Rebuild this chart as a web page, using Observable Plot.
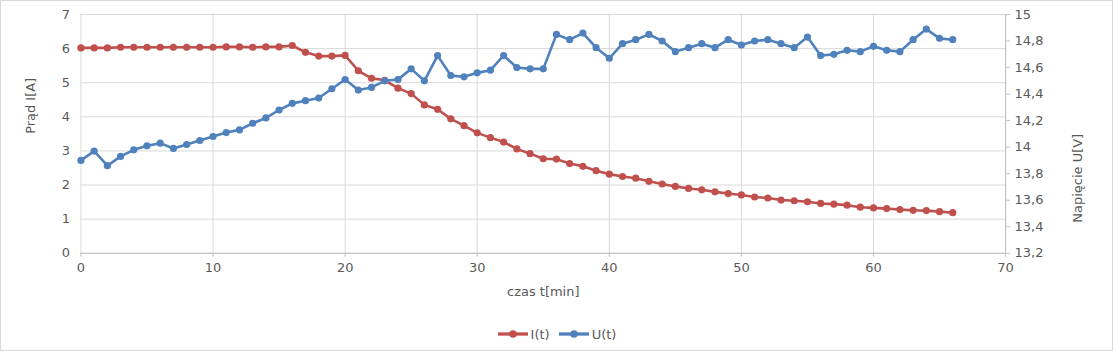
<!DOCTYPE html>
<html><head><meta charset="utf-8">
<script src="https://cdn.jsdelivr.net/npm/d3@7"></script>
<script src="https://cdn.jsdelivr.net/npm/@observablehq/plot@0.6"></script>
<style>
html,body{margin:0;padding:0;background:#fff;}
#wrap{position:relative;width:1113px;height:351px;box-sizing:border-box;border:1px solid #d9d9d9;font-family:"DejaVu Sans",sans-serif;color:#595959;overflow:hidden;}
#chart{position:absolute;left:-1px;top:-1px;}
#legend{position:absolute;left:-1px;top:318px;width:1113px;height:30px;display:flex;justify-content:center;align-items:center;font-size:13px;gap:8px;}
#legend span.item{display:flex;align-items:center;gap:2px;}
</style></head>
<body><div id="wrap"><div id="chart"></div><div id="legend"></div></div>
<script>
const time = [0,1,2,3,4,5,6,7,8,9,10,11,12,13,14,15,16,17,18,19,20,21,22,23,24,25,26,27,28,29,30,31,32,33,34,35,36,37,38,39,40,41,42,43,44,45,46,47,48,49,50,51,52,53,54,55,56,57,58,59,60,61,62,63,64,65,66];
const current = [6.02,6.02,6.02,6.04,6.04,6.04,6.04,6.04,6.04,6.04,6.04,6.05,6.05,6.04,6.05,6.05,6.09,5.89,5.78,5.78,5.80,5.35,5.13,5.07,4.84,4.68,4.35,4.22,3.94,3.74,3.53,3.39,3.26,3.06,2.92,2.77,2.76,2.63,2.55,2.42,2.32,2.25,2.20,2.11,2.03,1.96,1.90,1.86,1.80,1.75,1.71,1.65,1.62,1.56,1.54,1.51,1.46,1.44,1.41,1.35,1.33,1.31,1.28,1.26,1.25,1.22,1.19];
const voltage = [13.90,13.97,13.86,13.93,13.98,14.01,14.03,13.99,14.02,14.05,14.08,14.11,14.13,14.18,14.22,14.28,14.33,14.35,14.37,14.44,14.51,14.43,14.45,14.50,14.51,14.59,14.50,14.69,14.54,14.53,14.56,14.58,14.69,14.60,14.59,14.59,14.85,14.81,14.86,14.75,14.67,14.78,14.81,14.85,14.80,14.72,14.75,14.78,14.75,14.81,14.77,14.80,14.81,14.78,14.75,14.83,14.69,14.70,14.73,14.72,14.76,14.73,14.72,14.81,14.89,14.82,14.81];
const xTicks = [0,10,20,30,40,50,60,70];
const yTicks = [0,1,2,3,4,5,6,7];
const uTicks = [13.2,13.4,13.6,13.8,14,14.2,14.4,14.6,14.8,15];
const seriesNames = ["I(t)","U(t)"];
const colors = ["#c0504d","#4f81bd"];

const yMax = 7, uMin = 13.2, uMax = 15;
const toLeft = v => (v - uMin) / (uMax - uMin) * yMax;
const fromLeft = d => uMin + d / yMax * (uMax - uMin);
const fmtU = d => String(Math.round(fromLeft(d) * 10) / 10).replace(".", ",");

const dataI = time.map((t, i) => ({t, v: current[i]}));
const dataU = time.map((t, i) => ({t, v: toLeft(voltage[i])}));

const fontCSS = {fontFamily: "DejaVu Sans, sans-serif", fontSize: "13px", color: "#595959", background: "transparent", overflow: "visible"};

const plot = Plot.plot({
  width: 1113, height: 318,
  marginLeft: 80.5, marginRight: 107, marginTop: 14, marginBottom: 65,
  style: fontCSS,
  x: {domain: [0, 70]},
  y: {domain: [0, 7]},
  marks: [
    Plot.gridX(xTicks, {stroke: "#d9d9d9", strokeOpacity: 1}),
    Plot.gridY(yTicks, {stroke: "#d9d9d9", strokeOpacity: 1}),
    Plot.ruleY([0], {stroke: "#bfbfbf"}),
    Plot.ruleX([70], {stroke: "#bfbfbf", y1: 0, y2: 7}),
    Plot.axisX(xTicks, {tickSize: 4, tickPadding: 6, stroke: "#bfbfbf", label: null, fill: "#595959"}),
    Plot.axisY(yTicks, {anchor: "left", tickSize: 0, tickPadding: 11, label: null, fill: "#595959"}),
    Plot.axisY(uTicks.map(toLeft), {anchor: "right", tickSize: 4, tickPadding: 5, stroke: "#bfbfbf", tickFormat: fmtU, label: null, fill: "#595959"}),
    Plot.text(["czas t[min]"], {frameAnchor: "bottom", dy: 43, fill: "#595959"}),
    Plot.text(["Prąd I[A]"], {frameAnchor: "left", dx: -50, rotate: -90, fill: "#595959"}),
    Plot.text(["Napięcie U[V]"], {frameAnchor: "right", dx: 72, rotate: -90, fill: "#595959"}),
    Plot.line(dataI, {x: "t", y: "v", stroke: colors[0], strokeWidth: 2.6}),
    Plot.dot(dataI, {x: "t", y: "v", fill: colors[0], r: 3.6}),
    Plot.line(dataU, {x: "t", y: "v", stroke: colors[1], strokeWidth: 2.6}),
    Plot.dot(dataU, {x: "t", y: "v", fill: colors[1], r: 3.6})
  ]
});
document.getElementById("chart").appendChild(plot);

const leg = document.getElementById("legend");
seriesNames.forEach((name, i) => {
  const item = document.createElement("span");
  item.className = "item";
  item.innerHTML = `<svg width="32" height="12"><line x1="1" x2="31" y1="6" y2="6" stroke="${colors[i]}" stroke-width="3.3"/><circle cx="16" cy="6" r="3.8" fill="${colors[i]}"/></svg><span>${name}</span>`;
  leg.appendChild(item);
});
</script></body></html>
